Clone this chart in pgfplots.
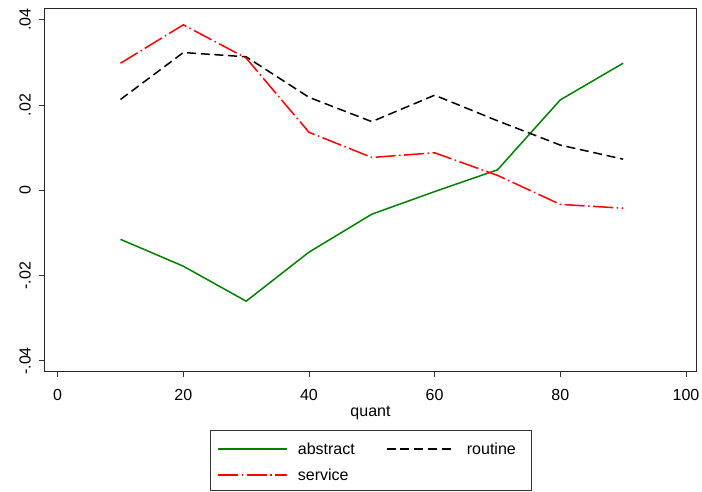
\documentclass[border=0pt]{standalone}
\usepackage{fontspec}
\setmainfont{Liberation Sans}
\usepackage{pgfplots}
\pgfplotsset{compat=1.18}
\definecolor{sgreen}{RGB}{0,128,0}
\begin{document}
\fontsize{16}{19}\selectfont
\begin{tikzpicture}[x=1pt,y=1pt]
\path[use as bounding box] (0,0) rectangle (702,491);
\begin{axis}[
  at={(45pt,120pt)}, anchor=south west,
  width=651pt, height=362.3pt, scale only axis,
  xmin=-2.02, xmax=101.6, ymin=-0.04237, ymax=0.04258,
  xtick={0,20,40,60,80,100},
  ytick={-0.04,-0.02,0,0.02,0.04},
  yticklabels={-.04,-.02,0,.02,.04},
  scaled y ticks=false,
  /pgf/number format/assume math mode=true,
  tick align=outside, major tick length=6pt,
  xtick pos=bottom, ytick pos=left,
  tick style={black!80, line width=0.8pt},
  axis line style={black!85, line width=1pt},
  ticklabel style={font=\fontsize{16}{19}\selectfont},
  yticklabel style={rotate=90, anchor=south, inner sep=0pt},
  yticklabel shift=8pt,
  xticklabel style={anchor=north, inner sep=0pt},
  xticklabel shift=12pt,
  xlabel={quant},
  xlabel style={at={(axis description cs:0.5,-0.1242)}, anchor=base, font=\fontsize{16}{19}\selectfont},
]
% abstract
\addplot[sgreen, line width=1.5pt] coordinates {
 (10,-0.0115) (20,-0.0178) (30,-0.0260) (40,-0.0145) (50,-0.0056)
 (60,-0.0003) (70,0.0048) (80,0.0212) (90,0.0298)};
% routine
\addplot[black, line width=1.5pt, dash pattern=on 9pt off 4.7pt] coordinates {
 (10,0.0213) (20,0.0323) (30,0.0313) (40,0.0218) (50,0.0161)
 (60,0.0223) (70,0.0163) (80,0.0106) (90,0.0073)};
% service
\addplot[red, line width=1.5pt, dash pattern=on 20pt off 3.5pt on 1.5pt off 3.5pt] coordinates {
 (10,0.0298) (20,0.0388) (30,0.0310) (40,0.0136) (50,0.0077)
 (60,0.0088) (70,0.0035) (80,-0.0033) (90,-0.0042)};
\end{axis}
% legend box, as a small axis in pixel units
\begin{axis}[
  at={(210.7pt,1pt)}, anchor=south west,
  width=320.3pt, height=59.3pt, scale only axis,
  xmin=210.7, xmax=531, ymin=1, ymax=60.3,
  xtick=\empty, ytick=\empty, clip=false,
  axis line style={black!80, line width=0.8pt},
]
\addplot[sgreen, line width=2pt] coordinates {(218,42) (287,42)};
\addplot[black, line width=2pt, dash pattern=on 9pt off 4.7pt] coordinates {(386.7,42) (455,42)};
\addplot[red, line width=2pt, dash pattern=on 20pt off 3.5pt on 1.5pt off 3.5pt] coordinates {(218,16) (287,16)};
\node[anchor=base west, inner sep=0pt, font=\fontsize{16}{19}\selectfont] at (axis cs:297.7,36) {abstract};
\node[anchor=base west, inner sep=0pt, font=\fontsize{16}{19}\selectfont] at (axis cs:466.7,36) {routine};
\node[anchor=base west, inner sep=0pt, font=\fontsize{16}{19}\selectfont] at (axis cs:297.7,11) {service};
\end{axis}
\end{tikzpicture}
\end{document}
